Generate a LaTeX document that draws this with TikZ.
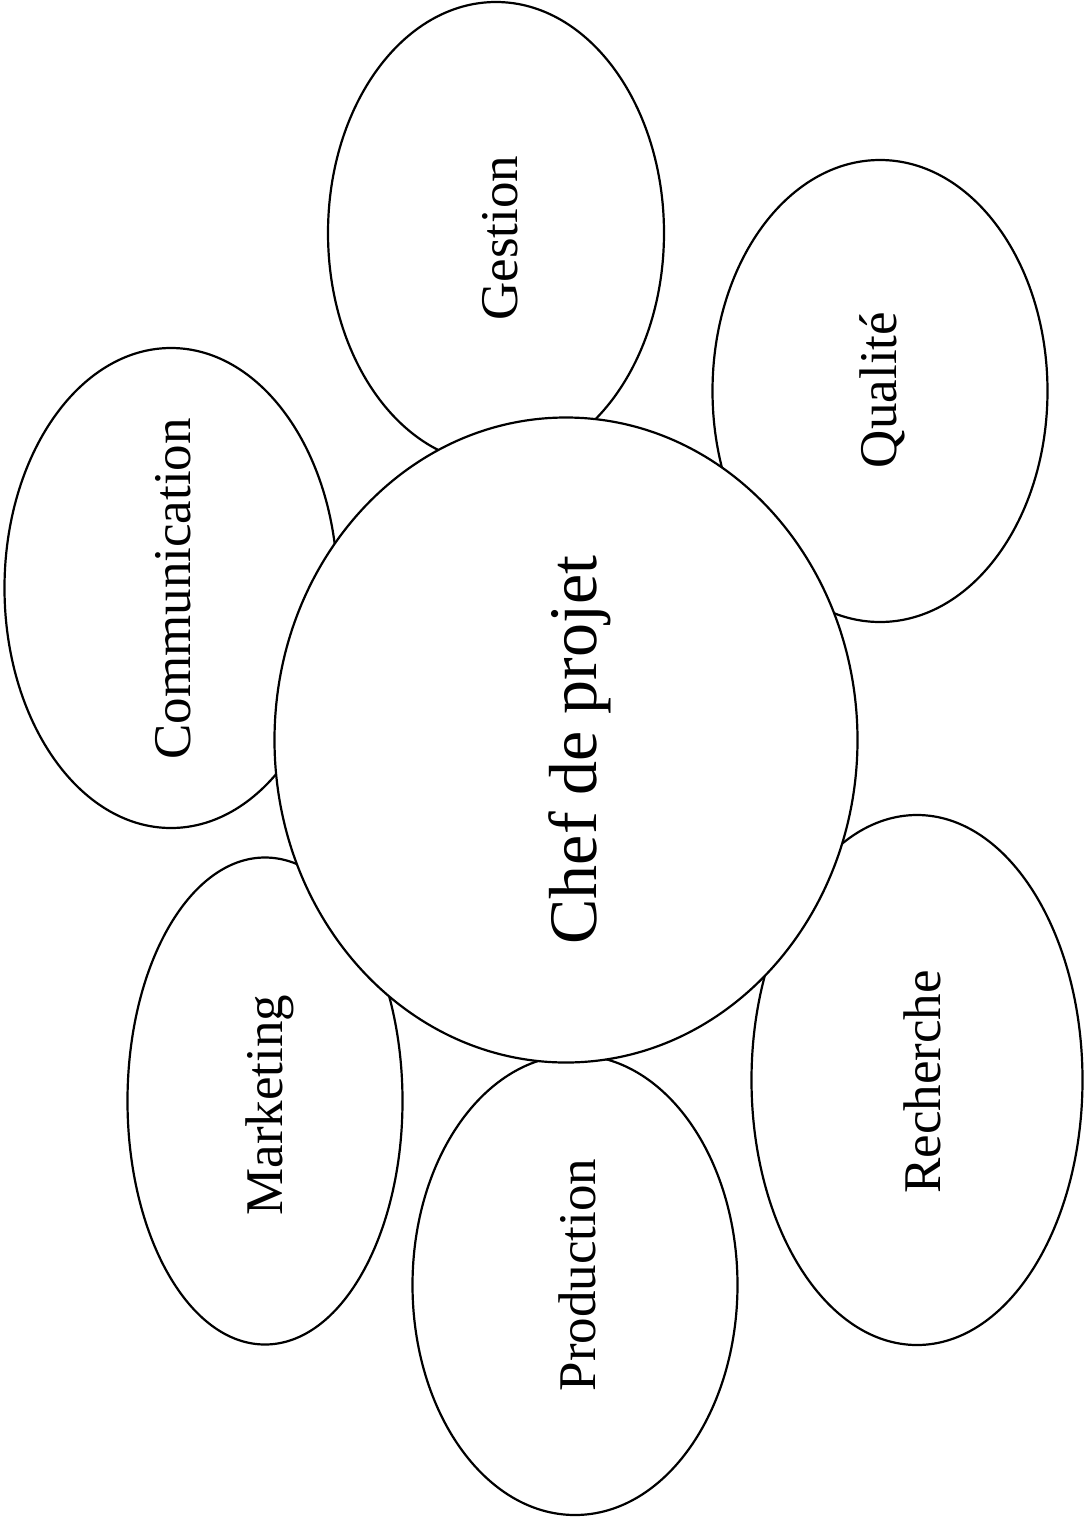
\documentclass[tikz,border=0pt]{standalone}
\usepackage{fontspec}
\setmainfont{Liberation Serif}
\usetikzlibrary{shapes.geometric}
\begin{document}
\begin{tikzpicture}[x=1pt,y=-1pt,
  petal/.style={draw=black,line width=2.2pt,ellipse,inner sep=0pt,fill=white},
  core/.style={petal},
  lbl/.style={rotate=90,inner sep=0pt,font=\fontsize{53}{60}\selectfont},
  corelbl/.style={rotate=90,inner sep=0pt,font=\fontsize{68}{76}\selectfont}]
\useasboundingbox[fill=white] (0,0) rectangle (1088,1521);
% outer ellipses
\node[petal,minimum width=336pt,minimum height=462pt] (gestion) at (496,233) {};
\node[petal,minimum width=335pt,minimum height=462pt] (qualite) at (880,391) {};
\node[petal,minimum width=333pt,minimum height=480pt] (comm) at (171,588) {};
\node[petal,minimum width=275pt,minimum height=487pt] (mark) at (265,1101) {};
\node[petal,minimum width=325pt,minimum height=460pt] (prod) at (575,1285) {};
\node[petal,minimum width=331pt,minimum height=530pt] (rech) at (917,1080) {};
% central circle on top
\node[core,minimum width=583pt,minimum height=645pt] (chef) at (566,740) {};
% labels
\node[lbl] (tgestion) at (500,238) {Gestion};
\node[lbl] (tqualite) at (882,390) {Qualité};
\node[lbl] (tcomm) at (173,589) {Communication};
\node[lbl] (tmark) at (270,1105) {Marketing};
\node[lbl] (tprod) at (577,1275) {Production};
\node[lbl] (trech) at (922,1082) {Recherche};
\node[corelbl] (tchef) at (580,750) {Chef de projet};
\end{tikzpicture}
\end{document}
